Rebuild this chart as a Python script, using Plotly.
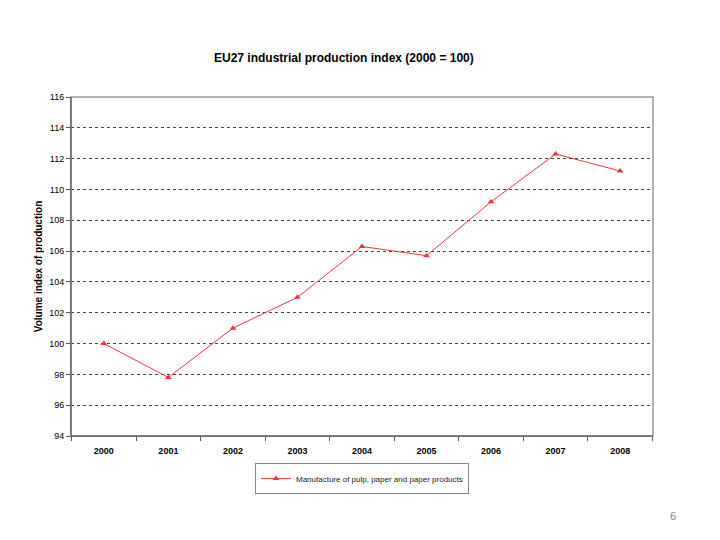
import plotly.graph_objects as go

years = ["2000", "2001", "2002", "2003", "2004", "2005", "2006", "2007", "2008"]
index_values = [100.0, 97.8, 101.0, 103.0, 106.3, 105.7, 109.2, 112.3, 111.2]
y_ticks = list(range(94, 117, 2))
series_name = "Manufacture of pulp, paper and paper products"

fig = go.Figure()
fig.add_trace(go.Scatter(
    x=years, y=index_values, mode="lines+markers", name=series_name,
    line=dict(color="#e8383d", width=1),
    marker=dict(symbol="triangle-up", size=6, color="#e8383d"),
))

font_main = "Liberation Sans, Arial, sans-serif"

fig.update_layout(
    width=720, height=540,
    margin=dict(l=71, r=67, t=97, b=104),
    paper_bgcolor="white", plot_bgcolor="white",
    font=dict(family=font_main, color="black"),
    showlegend=True,
    legend=dict(
        x=0.5, xanchor="center", y=-0.08, yanchor="top",
        bordercolor="#888888", borderwidth=1,
        font=dict(size=8, family=font_main, color="#222222"),
        itemwidth=30, tracegroupgap=0,
    ),
    annotations=[
        dict(text="<b>EU27 industrial production index (2000 = 100)</b>",
             x=0.469, y=1 + (97 - 58) / 339, xref="paper", yref="paper",
             yanchor="middle", showarrow=False,
             font=dict(size=12, family=font_main)),
        dict(text="6", x=(673 - 71) / 582, xref="paper", y=-(515 - 436) / 339, yref="paper",
             yanchor="middle", xanchor="center", showarrow=False,
             font=dict(size=11, color="#888888", family="Noto Sans, sans-serif")),
    ],
)

fig.update_xaxes(
    type="category", tickson="boundaries", ticks="outside", ticklen=4,
    tickcolor="#555555", showline=True, linecolor="#555555", linewidth=1,
    showgrid=False, tickfont=dict(size=9, family=font_main),
    tickprefix="<b>", ticksuffix="</b>", ticklabelstandoff=6,
)
fig.update_yaxes(
    range=[94, 116], tickvals=y_ticks, ticks="outside", ticklen=4,
    tickcolor="#555555", showline=True, linecolor="#555555", linewidth=1,
    showgrid=True, gridcolor="#444444", griddash="dot", gridwidth=1,
    tickfont=dict(size=9, family=font_main),
    tickprefix="<b>", ticksuffix="</b>",
    title=dict(text="<b>Volume index of production</b>", font=dict(size=10, family=font_main), standoff=4),
    zeroline=False,
)
fig.add_shape(type="rect", xref="paper", yref="paper", x0=0, x1=1, y0=0, y1=1,
              line=dict(color="#999999", width=1.5), layer="above")
fig.add_shape(type="line", xref="paper", yref="paper", x0=0, x1=0, y0=0, y1=1,
              line=dict(color="#555555", width=1), layer="above")
fig.add_shape(type="line", xref="paper", yref="paper", x0=0, x1=1, y0=0, y1=0,
              line=dict(color="#555555", width=1), layer="above")

fig.write_html("out.html")
